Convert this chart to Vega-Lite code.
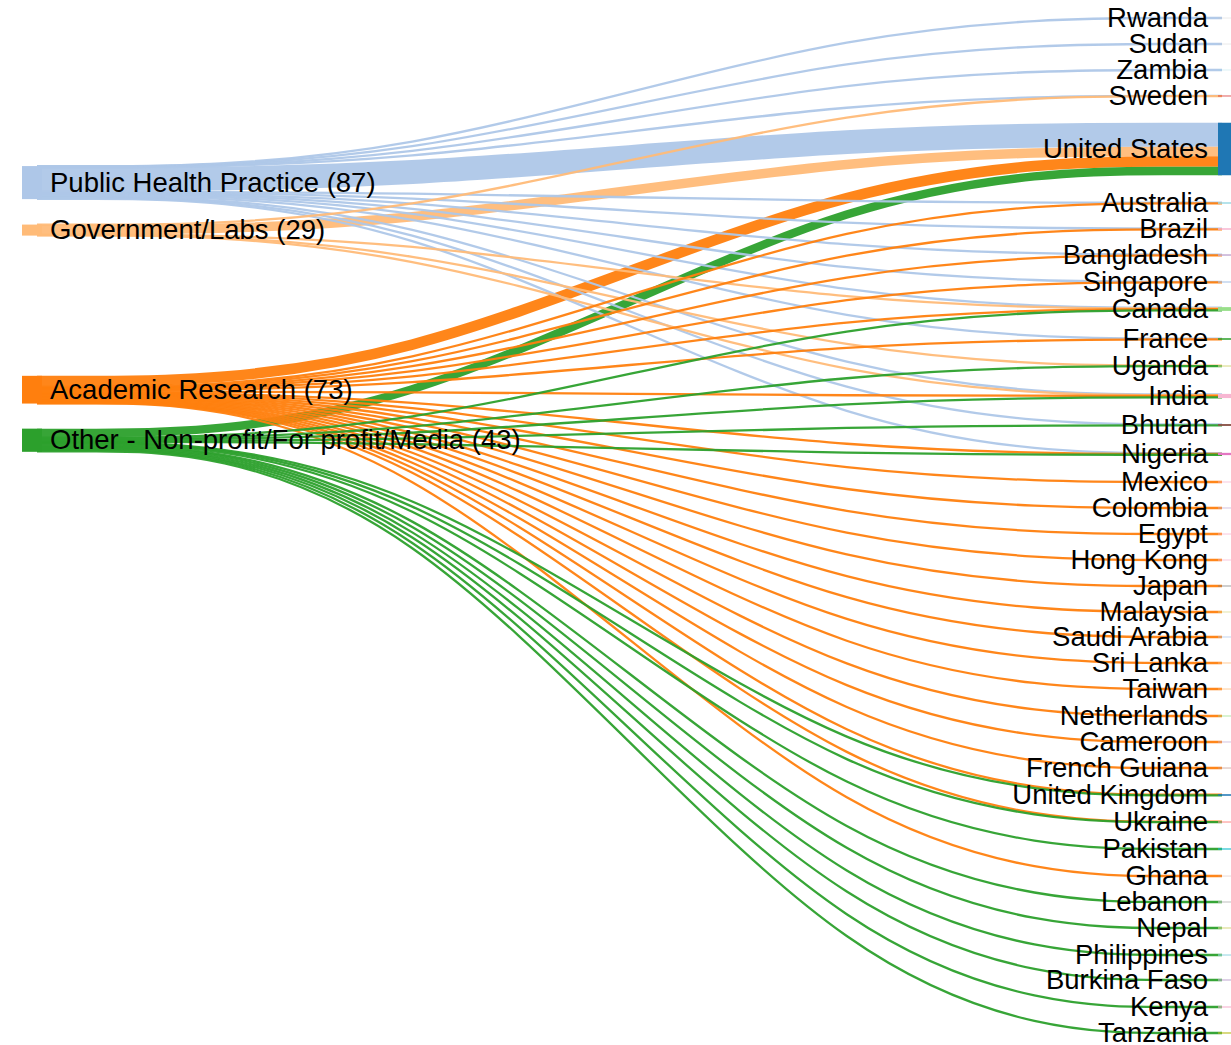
{
  "$schema": "https://vega.github.io/schema/vega-lite/v6.json",
  "width": 1231,
  "height": 1045,
  "padding": 0,
  "autosize": {"type": "none"},
  "background": "#ffffff",
  "config": {"view": {"stroke": null}},
  "datasets": {
    "links": [
      {"source": "Public Health Practice", "target": "Rwanda", "value": 1, "y0": 437.5, "y1": 47.4},
      {"source": "Public Health Practice", "target": "Sudan", "value": 1, "y0": 438.5, "y1": 115.8},
      {"source": "Public Health Practice", "target": "Zambia", "value": 1, "y0": 439.5, "y1": 184.2},
      {"source": "Public Health Practice", "target": "Sweden", "value": 1, "y0": 440.5, "y1": 252.1},
      {"source": "Public Health Practice", "target": "United States", "value": 63, "y0": 472.5, "y1": 354.4},
      {"source": "Public Health Practice", "target": "Australia", "value": 2, "y0": 505, "y1": 533.2},
      {"source": "Public Health Practice", "target": "Brazil", "value": 2, "y0": 507, "y1": 601.6},
      {"source": "Public Health Practice", "target": "Bangladesh", "value": 2, "y0": 509, "y1": 670.1},
      {"source": "Public Health Practice", "target": "Singapore", "value": 2, "y0": 511, "y1": 741.6},
      {"source": "Public Health Practice", "target": "Canada", "value": 3, "y0": 513.5, "y1": 809.7},
      {"source": "Public Health Practice", "target": "France", "value": 2, "y0": 516, "y1": 891.1},
      {"source": "Public Health Practice", "target": "India", "value": 3, "y0": 518.5, "y1": 1038.1},
      {"source": "Public Health Practice", "target": "Bhutan", "value": 2, "y0": 521, "y1": 1116.9},
      {"source": "Public Health Practice", "target": "Nigeria", "value": 2, "y0": 523, "y1": 1192.7},
      {"source": "Government/Labs", "target": "Sweden", "value": 1, "y0": 591.5, "y1": 253.1},
      {"source": "Government/Labs", "target": "United States", "value": 25, "y0": 604.5, "y1": 398.4},
      {"source": "Government/Labs", "target": "Canada", "value": 1, "y0": 617.5, "y1": 811.7},
      {"source": "Government/Labs", "target": "Uganda", "value": 1, "y0": 618.5, "y1": 962.2},
      {"source": "Government/Labs", "target": "India", "value": 1, "y0": 619.5, "y1": 1040.1},
      {"source": "Academic Research", "target": "United States", "value": 28, "y0": 1003, "y1": 424.9},
      {"source": "Academic Research", "target": "Australia", "value": 2, "y0": 1018, "y1": 535.2},
      {"source": "Academic Research", "target": "Brazil", "value": 2, "y0": 1020, "y1": 603.6},
      {"source": "Academic Research", "target": "Bangladesh", "value": 2, "y0": 1022, "y1": 672.1},
      {"source": "Academic Research", "target": "Singapore", "value": 1, "y0": 1023.5, "y1": 743.1},
      {"source": "Academic Research", "target": "Canada", "value": 3, "y0": 1025.5, "y1": 813.7},
      {"source": "Academic Research", "target": "France", "value": 2, "y0": 1028, "y1": 893.1},
      {"source": "Academic Research", "target": "India", "value": 3, "y0": 1030.5, "y1": 1042.1},
      {"source": "Academic Research", "target": "Nigeria", "value": 2, "y0": 1033, "y1": 1194.7},
      {"source": "Academic Research", "target": "Mexico", "value": 2, "y0": 1035, "y1": 1268.4},
      {"source": "Academic Research", "target": "Colombia", "value": 2, "y0": 1037, "y1": 1336.8},
      {"source": "Academic Research", "target": "Egypt", "value": 2, "y0": 1039, "y1": 1405.3},
      {"source": "Academic Research", "target": "Hong Kong", "value": 2, "y0": 1041, "y1": 1473.7},
      {"source": "Academic Research", "target": "Japan", "value": 2, "y0": 1043, "y1": 1542.1},
      {"source": "Academic Research", "target": "Malaysia", "value": 2, "y0": 1045, "y1": 1610.5},
      {"source": "Academic Research", "target": "Saudi Arabia", "value": 2, "y0": 1047, "y1": 1676.3},
      {"source": "Academic Research", "target": "Sri Lanka", "value": 2, "y0": 1049, "y1": 1744.7},
      {"source": "Academic Research", "target": "Taiwan", "value": 2, "y0": 1051, "y1": 1813.2},
      {"source": "Academic Research", "target": "Netherlands", "value": 2, "y0": 1053, "y1": 1884.2},
      {"source": "Academic Research", "target": "Cameroon", "value": 2, "y0": 1055, "y1": 1952.6},
      {"source": "Academic Research", "target": "French Guiana", "value": 2, "y0": 1057, "y1": 2021.1},
      {"source": "Academic Research", "target": "United Kingdom", "value": 2, "y0": 1059, "y1": 2091.1},
      {"source": "Academic Research", "target": "Ukraine", "value": 1, "y0": 1060.5, "y1": 2162.2},
      {"source": "Academic Research", "target": "Ghana", "value": 1, "y0": 1061.5, "y1": 2305.3},
      {"source": "Other - Non-profit/For profit/Media", "target": "United States", "value": 22, "y0": 1139, "y1": 449.9},
      {"source": "Other - Non-profit/For profit/Media", "target": "Canada", "value": 3, "y0": 1151.5, "y1": 816.7},
      {"source": "Other - Non-profit/For profit/Media", "target": "Uganda", "value": 2, "y0": 1154, "y1": 963.7},
      {"source": "Other - Non-profit/For profit/Media", "target": "India", "value": 4, "y0": 1157, "y1": 1045.6},
      {"source": "Other - Non-profit/For profit/Media", "target": "Bhutan", "value": 3, "y0": 1160.5, "y1": 1119.4},
      {"source": "Other - Non-profit/For profit/Media", "target": "Nigeria", "value": 2, "y0": 1163, "y1": 1196.7},
      {"source": "Other - Non-profit/For profit/Media", "target": "United Kingdom", "value": 2, "y0": 1165, "y1": 2093.1},
      {"source": "Other - Non-profit/For profit/Media", "target": "Ukraine", "value": 2, "y0": 1167, "y1": 2163.7},
      {"source": "Other - Non-profit/For profit/Media", "target": "Pakistan", "value": 3, "y0": 1169.5, "y1": 2234.2},
      {"source": "Other - Non-profit/For profit/Media", "target": "Lebanon", "value": 3, "y0": 1172.5, "y1": 2373.7},
      {"source": "Other - Non-profit/For profit/Media", "target": "Nepal", "value": 3, "y0": 1175.5, "y1": 2442.1},
      {"source": "Other - Non-profit/For profit/Media", "target": "Philippines", "value": 3, "y0": 1178.5, "y1": 2513.2},
      {"source": "Other - Non-profit/For profit/Media", "target": "Burkina Faso", "value": 3, "y0": 1181.5, "y1": 2578.9},
      {"source": "Other - Non-profit/For profit/Media", "target": "Kenya", "value": 3, "y0": 1184.5, "y1": 2650},
      {"source": "Other - Non-profit/For profit/Media", "target": "Tanzania", "value": 3, "y0": 1187.5, "y1": 2718.4}
    ],
    "nodes": [
      {"name": "Public Health Practice", "label": "Public Health Practice (87)", "col": 0, "top": 437, "bottom": 524},
      {"name": "Government/Labs", "label": "Government/Labs (29)", "col": 0, "top": 591, "bottom": 620},
      {"name": "Academic Research", "label": "Academic Research (73)", "col": 0, "top": 989, "bottom": 1062},
      {"name": "Other - Non-profit/For profit/Media", "label": "Other - Non-profit/For profit/Media (43)", "col": 0, "top": 1128, "bottom": 1189},
      {"name": "Rwanda", "label": "Rwanda", "col": 1, "top": 46.9, "bottom": 47.9},
      {"name": "Sudan", "label": "Sudan", "col": 1, "top": 115.3, "bottom": 116.3},
      {"name": "Zambia", "label": "Zambia", "col": 1, "top": 183.7, "bottom": 184.7},
      {"name": "Sweden", "label": "Sweden", "col": 1, "top": 251.6, "bottom": 253.6},
      {"name": "United States", "label": "United States", "col": 1, "top": 322.9, "bottom": 460.9},
      {"name": "Australia", "label": "Australia", "col": 1, "top": 532.2, "bottom": 536.2},
      {"name": "Brazil", "label": "Brazil", "col": 1, "top": 600.6, "bottom": 604.6},
      {"name": "Bangladesh", "label": "Bangladesh", "col": 1, "top": 669.1, "bottom": 673.1},
      {"name": "Singapore", "label": "Singapore", "col": 1, "top": 740.6, "bottom": 743.6},
      {"name": "Canada", "label": "Canada", "col": 1, "top": 808.2, "bottom": 818.2},
      {"name": "France", "label": "France", "col": 1, "top": 890.1, "bottom": 894.1},
      {"name": "Uganda", "label": "Uganda", "col": 1, "top": 961.7, "bottom": 964.7},
      {"name": "India", "label": "India", "col": 1, "top": 1036.6, "bottom": 1047.6},
      {"name": "Bhutan", "label": "Bhutan", "col": 1, "top": 1115.9, "bottom": 1120.9},
      {"name": "Nigeria", "label": "Nigeria", "col": 1, "top": 1191.7, "bottom": 1197.7},
      {"name": "Mexico", "label": "Mexico", "col": 1, "top": 1267.4, "bottom": 1269.4},
      {"name": "Colombia", "label": "Colombia", "col": 1, "top": 1335.8, "bottom": 1337.8},
      {"name": "Egypt", "label": "Egypt", "col": 1, "top": 1404.3, "bottom": 1406.3},
      {"name": "Hong Kong", "label": "Hong Kong", "col": 1, "top": 1472.7, "bottom": 1474.7},
      {"name": "Japan", "label": "Japan", "col": 1, "top": 1541.1, "bottom": 1543.1},
      {"name": "Malaysia", "label": "Malaysia", "col": 1, "top": 1609.5, "bottom": 1611.5},
      {"name": "Saudi Arabia", "label": "Saudi Arabia", "col": 1, "top": 1675.3, "bottom": 1677.3},
      {"name": "Sri Lanka", "label": "Sri Lanka", "col": 1, "top": 1743.7, "bottom": 1745.7},
      {"name": "Taiwan", "label": "Taiwan", "col": 1, "top": 1812.2, "bottom": 1814.2},
      {"name": "Netherlands", "label": "Netherlands", "col": 1, "top": 1883.2, "bottom": 1885.2},
      {"name": "Cameroon", "label": "Cameroon", "col": 1, "top": 1951.6, "bottom": 1953.6},
      {"name": "French Guiana", "label": "French Guiana", "col": 1, "top": 2020.1, "bottom": 2022.1},
      {"name": "United Kingdom", "label": "United Kingdom", "col": 1, "top": 2090.1, "bottom": 2094.1},
      {"name": "Ukraine", "label": "Ukraine", "col": 1, "top": 2161.7, "bottom": 2164.7},
      {"name": "Pakistan", "label": "Pakistan", "col": 1, "top": 2232.7, "bottom": 2235.7},
      {"name": "Ghana", "label": "Ghana", "col": 1, "top": 2304.8, "bottom": 2305.8},
      {"name": "Lebanon", "label": "Lebanon", "col": 1, "top": 2372.2, "bottom": 2375.2},
      {"name": "Nepal", "label": "Nepal", "col": 1, "top": 2440.6, "bottom": 2443.6},
      {"name": "Philippines", "label": "Philippines", "col": 1, "top": 2511.7, "bottom": 2514.7},
      {"name": "Burkina Faso", "label": "Burkina Faso", "col": 1, "top": 2577.4, "bottom": 2580.4},
      {"name": "Kenya", "label": "Kenya", "col": 1, "top": 2648.5, "bottom": 2651.5},
      {"name": "Tanzania", "label": "Tanzania", "col": 1, "top": 2716.9, "bottom": 2719.9}
    ]
  },
  "layer": [
    {
      "data": {"name": "links"},
      "transform": [
        {"filter": {"field": "value", "gte": 10}},
        {"fold": ["y0", "y1"], "as": ["k1", "v1"]},
        {"fold": ["y0", "y1"], "as": ["k2", "v2"]}
      ],
      "mark": {"type": "line", "interpolate": "basis", "strokeOpacity": 0.95, "strokeCap": "butt"},
      "encoding": {
        "x": {"field": "k1", "type": "nominal", "scale": {"type": "point", "domain": ["y0", "y1"], "range": [37, 866.5], "padding": 0}, "axis": null},
        "xOffset": {"field": "k2", "type": "nominal", "scale": {"type": "point", "domain": ["y0", "y1"], "range": [0, 355.5], "padding": 0}},
        "y": {"field": "v1", "type": "quantitative", "scale": {"domain": [0, 2750], "reverse": true, "nice": false, "zero": false}, "axis": null},
        "size": {"field": "value", "type": "quantitative", "scale": {"domain": [1, 6, 100], "range": [2.3, 2.3, 38]}, "legend": null},
        "color": {"field": "source", "type": "nominal", "legend": null,
          "scale": {"domain": ["Public Health Practice", "Government/Labs", "Academic Research", "Other - Non-profit/For profit/Media", "United States", "Rwanda", "Sudan", "Zambia", "Sweden", "Australia", "Brazil", "Bangladesh", "Singapore", "Canada", "France", "Uganda", "India", "Bhutan", "Nigeria", "Mexico", "Colombia", "Egypt", "Hong Kong", "Japan", "Malaysia", "Saudi Arabia", "Sri Lanka", "Taiwan", "Netherlands", "Cameroon", "French Guiana", "United Kingdom", "Ukraine", "Pakistan", "Ghana", "Lebanon", "Nepal", "Philippines", "Burkina Faso", "Kenya", "Tanzania"],
            "range": ["#aec7e8", "#ffbb78", "#ff7f0e", "#2ca02c", "#1f77b4", "#c7c7c7", "#c7c7c7", "#9edae5", "#d62728", "#9edae5", "#f7b6d2", "#c5b0d5", "#aec7e8", "#98df8a", "#2ca02c", "#dbdb8d", "#f7b6d2", "#8c564b", "#e377c2", "#f7b6d2", "#c5b0d5", "#f7b6d2", "#f7b6d2", "#7f7f7f", "#dbdb8d", "#aec7e8", "#ffbb78", "#ffbb78", "#98df8a", "#c5b0d5", "#c49c94", "#1f77b4", "#ff9896", "#17becf", "#c49c94", "#c7c7c7", "#dbdb8d", "#9edae5", "#c5b0d5", "#f7b6d2", "#bcbd22"]}},
        "detail": {"field": "target", "type": "nominal"},
        "order": [{"field": "k1", "type": "ordinal"}, {"field": "k2", "type": "ordinal"}]
      }
    },
    {
      "data": {"name": "links"},
      "transform": [
        {"filter": {"field": "value", "lt": 10}},
        {"fold": ["y0", "y1"], "as": ["k1", "v1"]},
        {"fold": ["y0", "y1"], "as": ["k2", "v2"]}
      ],
      "mark": {"type": "line", "interpolate": "basis", "strokeOpacity": 0.95, "strokeCap": "butt"},
      "encoding": {
        "x": {"field": "k1", "type": "nominal", "scale": {"type": "point", "domain": ["y0", "y1"], "range": [37, 866.5], "padding": 0}, "axis": null},
        "xOffset": {"field": "k2", "type": "nominal", "scale": {"type": "point", "domain": ["y0", "y1"], "range": [0, 355.5], "padding": 0}},
        "y": {"field": "v1", "type": "quantitative", "scale": {"domain": [0, 2750], "reverse": true, "nice": false, "zero": false}, "axis": null},
        "size": {"field": "value", "type": "quantitative", "scale": {"domain": [1, 6, 100], "range": [2.3, 2.3, 38]}, "legend": null},
        "color": {"field": "source", "type": "nominal", "legend": null},
        "detail": {"field": "target", "type": "nominal"},
        "order": [{"field": "k1", "type": "ordinal"}, {"field": "k2", "type": "ordinal"}]
      }
    },
    {
      "data": {"name": "nodes"},
      "mark": {"type": "bar", "width": 20, "orient": "vertical"},
      "encoding": {
        "x": {"field": "col", "type": "quantitative", "scale": {"domain": [0, 1], "range": [27, 1233]}, "axis": null},
        "y": {"field": "top", "type": "quantitative", "scale": {"domain": [0, 2750], "reverse": true, "nice": false, "zero": false}, "axis": null},
        "y2": {"field": "bottom"},
        "color": {"field": "name", "type": "nominal", "legend": null}
      }
    },
    {
      "data": {"name": "nodes"},
      "transform": [
        {"filter": {"field": "col", "equal": 0}},
        {"fold": ["top", "bottom"], "as": ["edge", "pos"]}
      ],
      "mark": {"type": "text", "align": "left", "baseline": "middle", "dx": 23, "dy": 1, "font": "Liberation Sans", "fontSize": 27.5, "fill": "#000000"},
      "encoding": {
        "x": {"field": "col", "type": "quantitative", "scale": {"domain": [0, 1], "range": [27, 1233]}, "axis": null},
        "y": {"field": "pos", "aggregate": "mean", "type": "quantitative", "scale": {"domain": [0, 2750], "reverse": true, "nice": false, "zero": false}, "axis": null},
        "text": {"field": "label", "type": "nominal"}
      }
    },
    {
      "data": {"name": "nodes"},
      "transform": [
        {"filter": {"field": "col", "equal": 1}},
        {"fold": ["top", "bottom"], "as": ["edge", "pos"]}
      ],
      "mark": {"type": "text", "align": "right", "baseline": "middle", "dx": -25, "dy": 1, "font": "Liberation Sans", "fontSize": 27.5, "fill": "#000000"},
      "encoding": {
        "x": {"field": "col", "type": "quantitative", "scale": {"domain": [0, 1], "range": [27, 1233]}, "axis": null},
        "y": {"field": "pos", "aggregate": "mean", "type": "quantitative", "scale": {"domain": [0, 2750], "reverse": true, "nice": false, "zero": false}, "axis": null},
        "text": {"field": "label", "type": "nominal"}
      }
    }
  ],
  "resolve": {"scale": {"x": "independent"}}
}
